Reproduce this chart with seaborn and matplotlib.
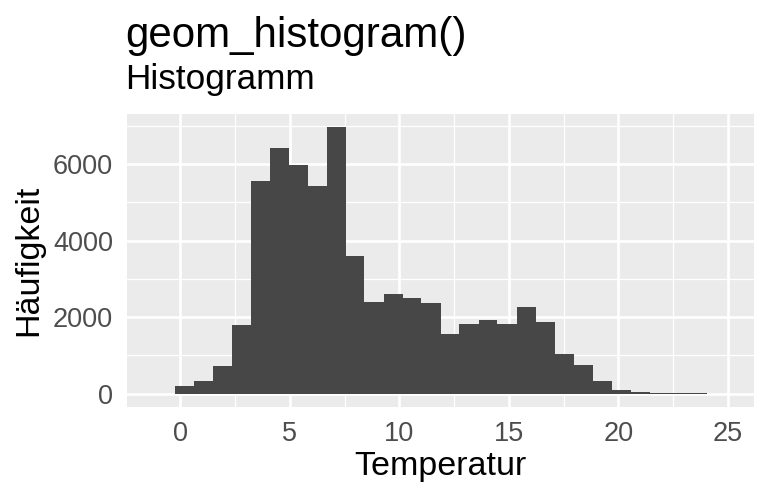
import numpy as np
import pandas as pd
import matplotlib
matplotlib.use("Agg")
import matplotlib.pyplot as plt
import seaborn as sns
from matplotlib.ticker import MultipleLocator

# ---- data ----
bin_width = 0.868
first_edge = -1.14
counts = [0, 190, 330, 723, 1797, 5554, 6409, 5963, 5413, 6959,
          3605, 2384, 2594, 2489, 2358, 1562, 1824, 1929, 1824, 2269,
          1860, 1038, 750, 330, 105, 42, 15, 12, 5, 3]
title = "geom_histogram()"
subtitle = "Histogramm"
x_label = "Temperatur"
y_label = "Häufigkeit"
x_ticks = [0, 5, 10, 15, 20, 25]
y_ticks = [0, 2000, 4000, 6000]

n_bins = len(counts)
edges = first_edge + bin_width * np.arange(n_bins + 1)
centers = (edges[:-1] + edges[1:]) / 2
df = pd.DataFrame({"temp": centers, "n": counts})

sns.set_theme(style="darkgrid")
plt.rcParams["font.family"] = ["Liberation Sans", "DejaVu Sans"]

fig = plt.figure(figsize=(7.68, 4.99), dpi=100)
ax = fig.add_axes([127/768, 1 - 407/499, (754 - 127)/768, (407 - 114)/499])
ax.set_facecolor("#EBEBEB")

bar_color = "#474747"
sns.histplot(data=df, x="temp", weights="n", bins=n_bins,
             binrange=(edges[0], edges[-1]), ax=ax, element="step",
             fill=True, color=bar_color, alpha=1, edgecolor="none",
             linewidth=0)

lo, hi = edges[0], edges[-1]
pad = (hi - lo) * 0.05
ax.set_xlim(lo - pad, hi + pad)
ymax = max(counts)
ax.set_ylim(-ymax * 0.05, ymax * 1.05)

ax.set_xticks(x_ticks)
ax.set_yticks(y_ticks)
ax.xaxis.set_minor_locator(MultipleLocator(2.5))
ax.yaxis.set_minor_locator(MultipleLocator(1000))
ax.grid(which="major", color="white", linewidth=1.9)
ax.grid(which="minor", color="white", linewidth=0.9)
ax.set_axisbelow(True)
for s in ax.spines.values():
    s.set_visible(False)

ax.tick_params(axis="both", which="major", length=6, width=1.3, color="#333333",
               labelsize=19.5, labelcolor="#4D4D4D", pad=4)
ax.tick_params(axis="both", which="minor", length=0)

ax.set_xlabel(x_label, fontsize=24.5, color="black", labelpad=3)
ax.set_ylabel(y_label, fontsize=24.5, color="black", labelpad=6)

fig.text(125/768, 1 - 47/499, title, fontsize=30.3, color="black",
         ha="left", va="baseline")
fig.text(125/768, 1 - 89/499, subtitle, fontsize=25.3, color="black",
         ha="left", va="baseline")

fig.savefig("out.png", dpi=100, facecolor="white")
